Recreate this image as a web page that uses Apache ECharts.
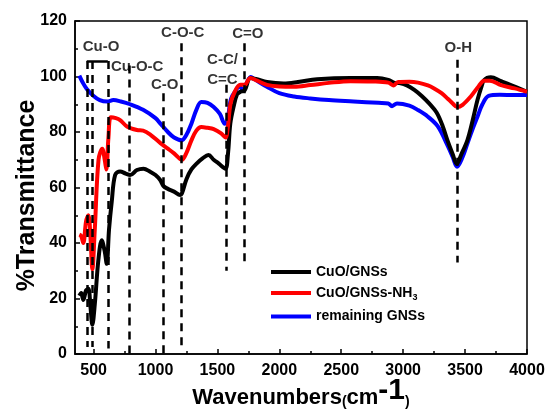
<!DOCTYPE html>
<html>
<head>
<meta charset="utf-8">
<style>
    html, body { margin: 0; padding: 0; background: #fff; }
    #chart { width: 547px; height: 412px; }
</style>
<script src="https://cdn.jsdelivr.net/npm/echarts@6/dist/echarts.min.js"></script>
</head>
<body>
<div id="chart"></div>
<script>
    // spectra: [wavenumber (cm-1), transmittance (%)]
    const cuoGns = [
        [385, 21], [400, 22], [417, 19.5], [440, 23], [458, 23.5], [475, 17], [490, 10.5], [510, 18],
        [539, 34], [566, 41], [590, 37], [606, 32.5], [625, 45], [647, 55], [674, 64.5], [714, 65.8],
        [760, 65], [795, 64.5], [850, 66.3], [903, 66.8], [957, 65.7], [1000, 64.5], [1038, 62.7],
        [1065, 60.5], [1100, 59.5], [1150, 58.5], [1199, 57.3], [1213, 57.8], [1250, 63], [1290, 66.5],
        [1334, 68.7], [1380, 70.5], [1428, 71.7], [1470, 70], [1509, 68.7], [1564, 66.8], [1585, 72],
        [1604, 83], [1630, 89], [1658, 93.5], [1685, 94.5], [1720, 95], [1766, 99.5], [1820, 99],
        [1900, 98], [2035, 97.5], [2150, 98], [2305, 99], [2575, 99.5], [2790, 99.5], [2880, 98.8],
        [2925, 97.8], [2970, 97.6], [3030, 96.8], [3090, 95.2], [3150, 93], [3210, 90.3], [3270, 87],
        [3320, 82], [3357, 77.1], [3400, 72], [3433, 68.5], [3470, 72], [3519, 77.1], [3560, 84],
        [3600, 91.5], [3630, 96], [3654, 98.7], [3708, 99.7], [3790, 98.3], [3870, 96.9], [4000, 94.5]
    ];
    const cuoGnsNh3 = [
        [385, 43], [400, 42.5], [417, 40], [440, 48], [458, 50], [475, 42], [490, 30.5], [510, 45],
        [540, 70], [570, 74], [590, 70], [603, 66.5], [620, 78], [640, 85.3], [680, 85], [714, 84.3],
        [770, 82], [850, 80.7], [900, 80.5], [960, 79], [1040, 76], [1100, 74], [1150, 72.3], [1213, 70],
        [1250, 72.5], [1290, 77], [1330, 80.5], [1370, 81.8], [1420, 81.5], [1470, 81], [1530, 79.5],
        [1565, 78], [1585, 82], [1605, 90], [1640, 94.5], [1685, 97], [1720, 97], [1766, 99.5],
        [1820, 98.5], [1900, 97], [2000, 96.4], [2120, 96.3], [2250, 96.9], [2400, 97.7], [2575, 98.3],
        [2750, 98.2], [2880, 97.8], [2920, 96.8], [2960, 98], [3050, 98.1], [3120, 97.8], [3200, 96.8],
        [3250, 95.7], [3310, 94], [3360, 92], [3400, 90.3], [3438, 89], [3480, 89.8], [3546, 92.8],
        [3610, 96.5], [3654, 98.5], [3700, 98.5], [3790, 96.9], [3900, 95.7], [4000, 94.5]
    ];
    const remainingGns = [
        [385, 100.3], [410, 98], [445, 95.5], [500, 93], [550, 91.5], [610, 91], [660, 91.5], [720, 91],
        [795, 90], [900, 88], [1000, 85], [1040, 83], [1100, 80], [1150, 78], [1210, 77], [1250, 79],
        [1290, 83], [1330, 88], [1370, 90.8], [1420, 90.5], [1470, 89], [1520, 86.5], [1560, 83],
        [1580, 84], [1610, 92], [1650, 95], [1675, 96.5], [1710, 95], [1740, 98], [1770, 99.8],
        [1800, 99], [1900, 96.3], [2000, 94], [2120, 92.8], [2250, 92.1], [2400, 91.5], [2600, 91],
        [2800, 90.5], [2880, 90.3], [2910, 89.3], [2950, 90.3], [3050, 89.5], [3120, 87.9], [3200, 85.5],
        [3280, 82], [3360, 75], [3400, 71], [3435, 67.5], [3480, 71], [3520, 76], [3560, 81],
        [3600, 85.5], [3640, 90], [3690, 93], [3780, 93.4], [3900, 93.3], [4000, 93.3]
    ];

    const xLabels = [500, 1000, 1500, 2000, 2500, 3000, 3500, 4000];
    const xMinor = [750, 1250, 1750, 2250, 2750, 3250, 3750];

    // band assignments: [wavenumber, top %, bottom %]
    const bandLines = [
        [445, 105.6, 2.5], [490, 105.6, 2.5], [615, 105.6, 2], [790, 104, 0],
        [1065, 94, 0], [1210, 112, 1.4], [1575, 97, 30], [1720, 112, 33], [3440, 106, 33]
    ];
    const bandLabels = [
        ['Cu-O', 560, 110.6], ['Cu-O-C', 852, 103.4], ['C-O', 1074, 96.9], ['C-O-C', 1220, 115.7],
        ['C-C/\nC=C', 1541, 102.3], ['C=O', 1746, 115.3], ['O-H', 3445, 110.3]
    ];
    const cuoBracket = [445, 615, 105.6];

    const font = 'Liberation Sans, Arial, sans-serif';
    const myChart = echarts.init(document.getElementById('chart'));

    const marks = bandLines.map(b => [
        { coord: [b[0], b[1]] },
        { coord: [b[0], b[2]] }
    ]);
    marks.push([
        { coord: [cuoBracket[0], cuoBracket[2]], lineStyle: { type: 'solid' } },
        { coord: [cuoBracket[1], cuoBracket[2]] }
    ]);

    const option = {
        animation: false,
        grid: {
            left: 75, right: 20, top: 21, bottom: 58,
            outerBoundsMode: 'none',
            show: true, borderColor: '#000', borderWidth: 1.5
        },
        legend: {
            data: ['CuO/GNSs', 'CuO/GNSs-NH3', 'remaining GNSs'],
            orient: 'vertical',
            left: 266, top: 260,
            itemWidth: 40, itemHeight: 4, itemGap: 7,
            icon: 'rect',
            formatter: (name) => name === 'CuO/GNSs-NH3' ? '{t|CuO/GNSs-NH}{s|3}' : '{t|' + name + '}',
            textStyle: {
                rich: {
                    t: { fontFamily: font, fontWeight: 'bold', fontSize: 14, color: '#000' },
                    s: { fontFamily: font, fontWeight: 'bold', fontSize: 9, color: '#000', padding: [10, 0, 0, 0] }
                }
            }
        },
        xAxis: [{
            type: 'value', min: 350, max: 4000, position: 'bottom',
            name: '{a|Wavenumbers}{b|(}{a|cm}{c|-1}{b|)}',
            nameLocation: 'middle', nameGap: 22, nameMoveOverlap: false,
            nameTextStyle: {
                rich: {
                    a: { fontFamily: font, fontWeight: 'bold', fontSize: 22, color: '#000' },
                    b: { fontFamily: font, fontWeight: 'bold', fontSize: 14, color: '#000', padding: [8, 0, 0, 0] },
                    c: { fontFamily: font, fontWeight: 'bold', fontSize: 30, color: '#000', padding: [0, 0, 14, 0] }
                }
            },
            axisLine: { lineStyle: { color: '#000', width: 1.5 } },
            axisTick: { inside: true, length: 5, customValues: xLabels, lineStyle: { color: '#000', width: 1.5 } },
            axisLabel: {
                customValues: xLabels, margin: 9,
                formatter: (v) => String(v),
                fontFamily: font, fontWeight: 'bold', fontSize: 16, color: '#000'
            },
            splitLine: { show: false }
        }, {
            type: 'value', min: 350, max: 4000, position: 'bottom',
            axisLine: { show: false },
            axisTick: { inside: true, length: 3, customValues: xMinor, lineStyle: { color: '#000', width: 1.5 } },
            axisLabel: { show: false },
            splitLine: { show: false }
        }],
        yAxis: {
            type: 'value', min: 0, max: 120, interval: 20,
            name: '%Transmittance',
            nameLocation: 'middle', nameGap: 35, nameMoveOverlap: false,
            nameTextStyle: {
                fontFamily: font, fontWeight: 'bold', fontSize: 25, color: '#000',
                padding: [0, 16, 0, 0]
            },
            axisLine: { show: true, lineStyle: { color: '#000', width: 1.5 } },
            axisTick: { inside: true, length: 5, lineStyle: { color: '#000', width: 1.5 } },
            minorTick: { show: true, splitNumber: 2, length: 3, lineStyle: { color: '#000', width: 1.5 } },
            axisLabel: { margin: 8, fontFamily: font, fontWeight: 'bold', fontSize: 16, color: '#000' },
            splitLine: { show: false }
        },
        series: [{
            name: 'remaining GNSs', type: 'line', data: remainingGns,
            smooth: 0.35, showSymbol: false,
            itemStyle: { color: '#0000ff' },
            lineStyle: { color: '#0000ff', width: 4 }
        }, {
            name: 'CuO/GNSs', type: 'line', data: cuoGns,
            smooth: 0.35, showSymbol: false,
            itemStyle: { color: '#000000' },
            lineStyle: { color: '#000000', width: 4 }
        }, {
            name: 'CuO/GNSs-NH3', type: 'line', data: cuoGnsNh3,
            smooth: 0.35, showSymbol: false,
            itemStyle: { color: '#ff0000' },
            lineStyle: { color: '#ff0000', width: 4 }
        }, {
            name: 'bands', type: 'scatter', symbolSize: 0,
            data: bandLabels.map(b => ({ name: b[0], value: [b[1], b[2]] })),
            label: {
                show: true, position: 'inside', formatter: '{b}',
                fontFamily: font, fontWeight: 'bold', fontSize: 15, color: '#000', lineHeight: 20
            },
            markLine: {
                silent: true, symbol: 'none',
                label: { show: false },
                lineStyle: { color: '#000', width: 2.5, type: [8, 6] },
                data: marks
            },
            z: 1
        }]
    };

    myChart.setOption(option);
</script>
</body>
</html>
